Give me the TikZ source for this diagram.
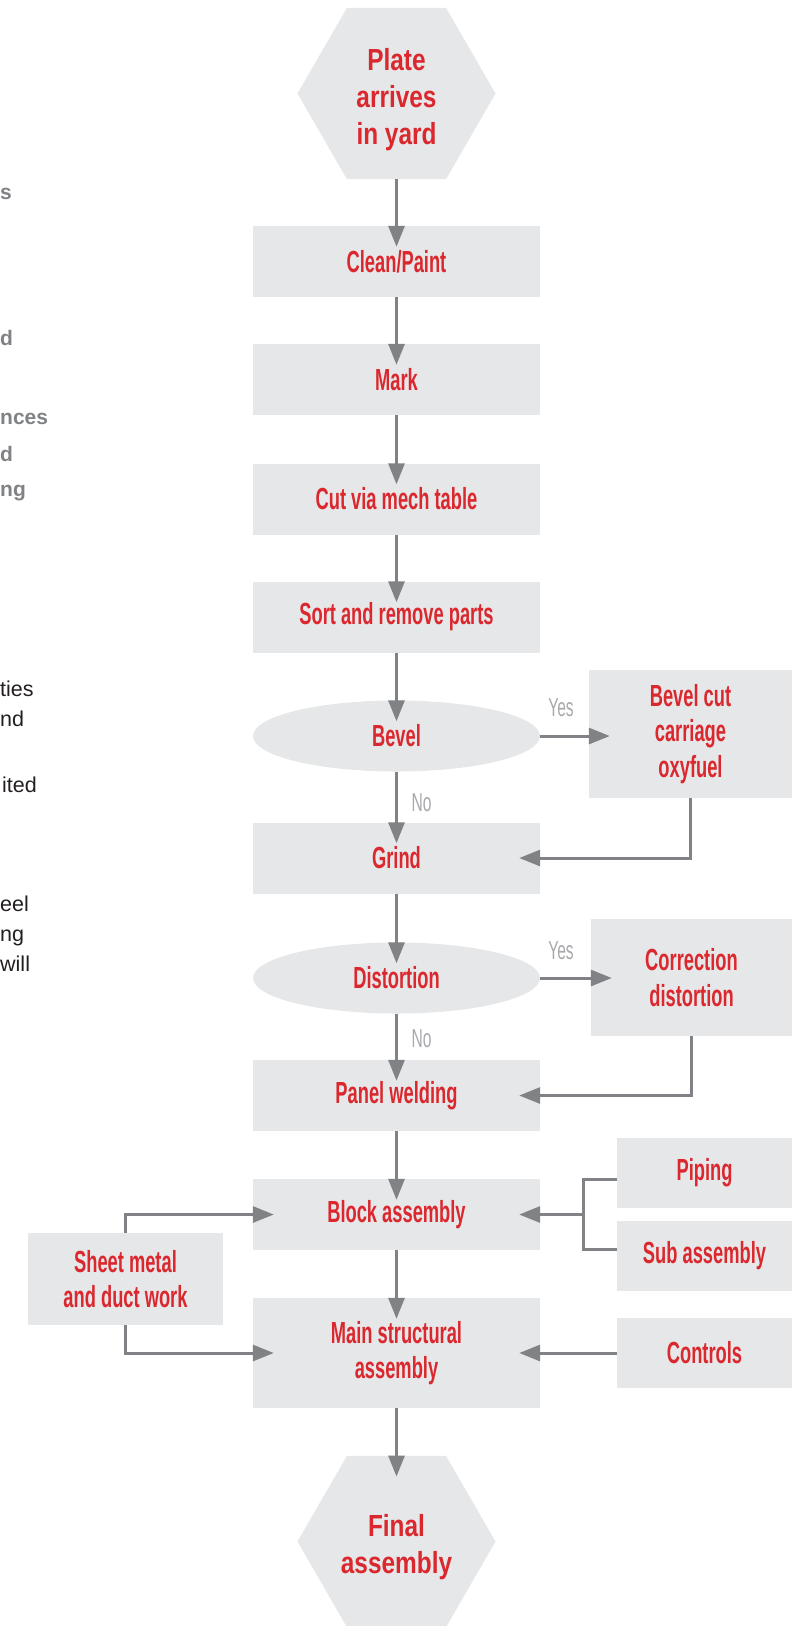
\documentclass[tikz,border=0pt]{standalone}
\usepackage{fontspec}
\setmainfont{Liberation Sans}
\newfontfamily\StepFont[FakeStretch=0.6]{Liberation Sans}
\newfontfamily\EndFont[FakeStretch=0.8]{Liberation Sans}
\newfontfamily\TagFont[FakeStretch=0.6]{Liberation Sans}
\usepackage{tikz}
\usepackage{xcolor}
\usetikzlibrary{arrows.meta,shapes.geometric}
\definecolor{stepGrey}{RGB}{230,231,232}
\definecolor{flowRed}{RGB}{218,40,46}
\definecolor{lineGrey}{RGB}{128,130,133}
\definecolor{tagGrey}{RGB}{167,169,172}
\definecolor{noteGrey}{RGB}{128,130,133}
\definecolor{noteBlack}{RGB}{35,31,32}

\begin{document}
\begin{tikzpicture}[x=1pt,y=-1pt,
  stepbox/.style={rectangle,fill=stepGrey,minimum width=287pt,minimum height=71pt,inner sep=0pt,align=center,text=flowRed,font=\StepFont\bfseries\fontsize{30.5}{35.5}\selectfont},
  sidebox/.style={stepbox,minimum width=175pt,minimum height=70pt},
  choice/.style={stepbox,ellipse},
  endhex/.style={regular polygon,regular polygon sides=6,minimum size=198pt,inner sep=0pt,fill=stepGrey},
  endtext/.style={inner sep=0pt,align=center,text=flowRed,font=\EndFont\bfseries\fontsize{30.5}{37}\selectfont},
  tag/.style={inner sep=0pt,text=tagGrey,font=\TagFont\fontsize{26}{30}\selectfont},
  notebold/.style={anchor=base west,inner sep=0pt,text=noteGrey,font=\bfseries\fontsize{21}{25}\selectfont},
  noteplain/.style={anchor=base west,inner sep=0pt,text=noteBlack,font=\fontsize{21.5}{25}\selectfont},
  link/.style={draw=lineGrey,line width=3pt},
  flow/.style={link,-{Triangle[length=21pt,width=16pt]},shorten >=-21pt}]
\useasboundingbox (0,0) rectangle (808,1626);
% cut-off text of the facing column
\node[notebold] (noteA) at (0,199) {s};
\node[notebold] (noteB) at (0,345) {d};
\node[notebold] (noteC) at (0,424) {nces};
\node[notebold] (noteD) at (0,461) {d};
\node[notebold] (noteE) at (0,496) {ng};
\node[noteplain] (noteF) at (0,696) {ties};
\node[noteplain] (noteG) at (0,726) {nd};
\node[noteplain] (noteH) at (2,792) {ited};
\node[noteplain] (noteI) at (0,911) {eel};
\node[noteplain] (noteJ) at (0,941) {ng};
\node[noteplain] (noteK) at (0,971) {will};
% main line
\node[endhex] (arrive) at (396.5,93.5) {};
\node[endtext] (arrivetext) at (396.5,99.5) {Plate\\arrives\\in yard};
\node[stepbox] (clean) at (396.5,261.5) {Clean/Paint};
\node[stepbox] (mark) at (396.5,379.5) {Mark};
\node[stepbox] (cut) at (396.5,499) {Cut via mech table};
\node[stepbox] (sort) at (396.5,617) {Sort and remove parts};
\node[choice] (bevel) at (396.5,736) {Bevel};
\node[stepbox] (grind) at (396.5,858) {Grind};
\node[choice] (distort) at (396.5,978) {Distortion};
\node[stepbox] (panel) at (396.5,1095.5) {Panel welding};
\node[stepbox] (block) at (396.5,1214.5) {Block assembly};
\node[stepbox,minimum height=110pt] (mainasm) at (396.5,1353) {Main structural\\assembly};
\node[endhex] (final) at (396.5,1541.5) {};
\node[endtext] (finaltext) at (396.5,1547.5) {Final\\assembly};
% side steps
\node[sidebox,minimum width=203pt,minimum height=128pt] (bevelcut) at (690.5,734) {Bevel cut\\carriage\\oxyfuel};
\node[sidebox,minimum width=201pt,minimum height=117pt] (fixdist) at (691.5,977.5) {Correction\\distortion};
\node[sidebox] (piping) at (704.5,1173) {Piping};
\node[sidebox] (subasm) at (704.5,1255.5) {Sub assembly};
\node[sidebox] (controls) at (704.5,1353) {Controls};
\node[sidebox,minimum width=195pt,minimum height=92pt] (sheet) at (125.5,1279) {Sheet metal\\and duct work};
% yes / no
\node[tag] (yesbevel) at (561,708) {Yes};
\node[tag] (nobevel) at (421.5,802.5) {No};
\node[tag] (yesdist) at (561,951) {Yes};
\node[tag] (nodist) at (421.5,1039) {No};
% connectors
\draw[flow] (arrive.south) -- (clean.north);
\foreach \from/\to in {clean/mark,mark/cut,cut/sort,sort/bevel,bevel/grind,grind/distort,distort/panel,panel/block,block/mainasm,mainasm/final}
  \draw[flow] (\from.south) -- (\to.north);
\draw[flow] (bevel.east) -- (bevel.east -| bevelcut.west);
\draw[flow] (bevelcut.south) |- (grind.east);
\draw[flow] (distort.east) -- (distort.east -| fixdist.west);
\draw[flow] (fixdist.south) |- (panel.east);
\coordinate (join) at (583,1214.5);
\draw[link] ([yshift=-6pt]piping.west) -| (join) |- ([yshift=6pt]subasm.west);
\draw[flow] (join) -- (block.east);
\draw[flow] (sheet.north) |- (block.west);
\draw[flow] (sheet.south) |- (mainasm.west);
\draw[flow] (controls.west) -- (mainasm.east);
\end{tikzpicture}
\end{document}
